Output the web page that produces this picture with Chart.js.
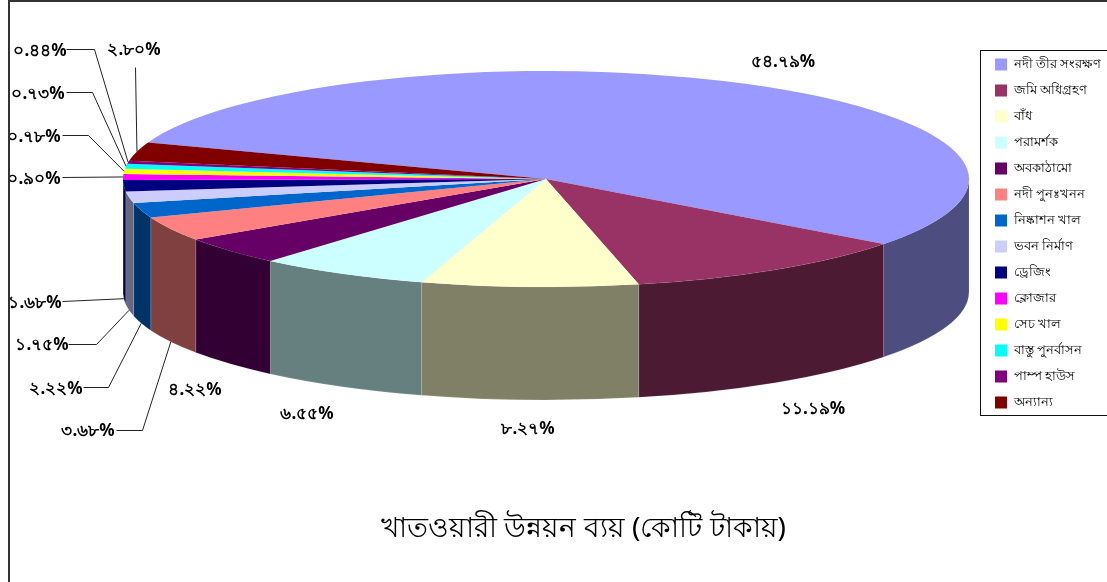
<!DOCTYPE html>
<html>
<head>
<meta charset="utf-8">
<title>খাতওয়ারী উন্নয়ন ব্যয়</title>
<script src="https://cdn.jsdelivr.net/npm/chart.js@4"></script>
<style>
html,body{margin:0;padding:0;background:#fff;}
canvas{display:block;}
</style>
</head>
<body>
<canvas id="sectorChart" width="1107" height="582"></canvas>
<script>
const categories = ['নদী তীর সংরক্ষণ','জমি অধিগ্রহণ','বাঁধ','পরামর্শক','অবকাঠামো','নদী পুনঃখনন','নিষ্কাশন খাল','ভবন নির্মাণ','ড্রেজিং','ক্লোজার','সেচ খাল','বাস্তু পুনর্বাসন','পাম্প হাউস','অন্যান্য'];
const shares = [54.79,11.19,8.27,6.55,4.22,3.68,2.22,1.75,1.68,0.90,0.78,0.73,0.44,2.80];
const shareLabels = ['৫৪.৭৯%','১১.১৯%','৮.২৭%','৬.৫৫%','৪.২২%','৩.৬৮%','২.২২%','১.৭৫%','১.৬৮%','০.৯০%','০.৭৮%','০.৭৩%','০.৪৪%','২.৮০%'];
const chartTitle = 'খাতওয়ারী উন্নয়ন ব্যয় (কোটি টাকায়)';

const sliceColors = ['#9999ff','#993366','#ffffcc','#ccffff','#660066','#ff8080','#0066cc','#ccccff','#000080','#ff00ff','#ffff00','#00ffff','#800080','#800000'];

// layout of the flattened pie and its text, px
const PIE = {cx:546, cy:179, rx:423, ry:108, depth:113};
const LEGEND_BOX = {x:980, y:50, w:127, h:365};
const labelPlaces = [[783,62],[813,409],[528,429],[307,414],[195,390],[88,431],[56,389],[42,345],[35,303],[34,179],[34,137],[38,94],[40,51],[134,50]];
// leader start and elbow, null means no leader
const leaders = [null,null,null,null,null,
    [[116,430],[142,430]],[[83,387],[108,387]],[[68,344],[96,344]],[[62,301],null],
    [[62,177],null],[[62,135],[88,135]],[[66,92],[92,92]],[[66,49],[94,49]],[[135,67],null]];

function shade(hex){
    const n = parseInt(hex.slice(1),16);
    const c = [n>>16,(n>>8)&255,n&255].map(v=>Math.round(v/2));
    return 'rgb('+c.join(',')+')';
}

const flatPie = {
    id:'flatPie',
    afterLayout(chart){
        const lg = chart.legend;
        lg.left = 982; lg.right = 1107; lg.top = 45; lg.bottom = 470;
    },
    beforeDatasetsDraw(chart){
        const ctx = chart.ctx;
        const arcs = chart.getDatasetMeta(0).data;
        ctx.save();
        arcs.forEach((arc,i)=>{
            const a1 = Math.max(arc.startAngle,0), a2 = Math.min(arc.endAngle,Math.PI);
            if(a2<=a1) return;
            ctx.beginPath();
            ctx.ellipse(PIE.cx,PIE.cy,PIE.rx,PIE.ry,0,a1,a2);
            ctx.ellipse(PIE.cx,PIE.cy+PIE.depth,PIE.rx,PIE.ry,0,a2,a1,true);
            ctx.closePath();
            ctx.fillStyle = shade(sliceColors[i]);
            ctx.fill();
            ctx.strokeStyle = 'rgba(255,255,255,0.12)';
            ctx.lineWidth = 1;
            ctx.stroke();
        });
        const a = arcs[0];
        ctx.translate(PIE.cx,PIE.cy);
        ctx.scale(PIE.rx/a.outerRadius,PIE.ry/a.outerRadius);
        ctx.translate(-a.x,-a.y);
    },
    afterDatasetsDraw(chart){
        const ctx = chart.ctx;
        ctx.restore();
        const arcs = chart.getDatasetMeta(0).data;

        ctx.strokeStyle = '#222';
        ctx.lineWidth = 1;
        leaders.forEach((l,i)=>{
            if(!l) return;
            const mid = (arcs[i].startAngle+arcs[i].endAngle)/2;
            const onWall = Math.sin(mid)>0;
            const ex = PIE.cx+PIE.rx*Math.cos(mid);
            const ey = PIE.cy+PIE.ry*Math.sin(mid)+(onWall?PIE.depth:0);
            ctx.beginPath();
            ctx.moveTo(l[0][0]+0.5,l[0][1]+0.5);
            if(l[1]) ctx.lineTo(l[1][0]+0.5,l[1][1]+0.5);
            ctx.lineTo(ex,ey);
            ctx.stroke();
        });

        ctx.fillStyle = '#000';
        ctx.font = 'bold 17px "Noto Sans","Liberation Serif",sans-serif';
        ctx.textAlign = 'center';
        ctx.textBaseline = 'middle';
        shareLabels.forEach((t,i)=>{
            ctx.fillText(t,labelPlaces[i][0],labelPlaces[i][1]);
        });
    },
    afterDraw(chart){
        const ctx = chart.ctx;
        ctx.save();
        ctx.strokeStyle = '#111';
        ctx.lineWidth = 1;
        ctx.strokeRect(LEGEND_BOX.x+0.5,LEGEND_BOX.y+0.5,LEGEND_BOX.w+5,LEGEND_BOX.h);
        ctx.lineWidth = 2;
        ctx.strokeStyle = '#333';
        ctx.beginPath();
        ctx.moveTo(9,582); ctx.lineTo(9,1); ctx.lineTo(1107,1);
        ctx.stroke();
        ctx.restore();
    }
};

new Chart(document.getElementById('sectorChart'),{
    type:'pie',
    data:{labels:categories,datasets:[{data:shares,backgroundColor:sliceColors,borderWidth:0,clip:false}]},
    options:{
        responsive:false,
        animation:false,
        rotation:-70.2,
        layout:{padding:{left:60,bottom:36}},
        plugins:{
            tooltip:{enabled:false},
            title:{display:true,text:chartTitle,position:'bottom',color:'#000',
                font:{family:'"Noto Sans","Liberation Serif",serif',size:28,weight:'normal'},padding:{top:0,bottom:0}},
            legend:{position:'right',align:'start',
                labels:{boxWidth:12,boxHeight:12,padding:13,color:'#000',
                    font:{family:'"Noto Sans","Liberation Serif",serif',size:13}}}
        }
    },
    plugins:[flatPie]
});
</script>
</body>
</html>
